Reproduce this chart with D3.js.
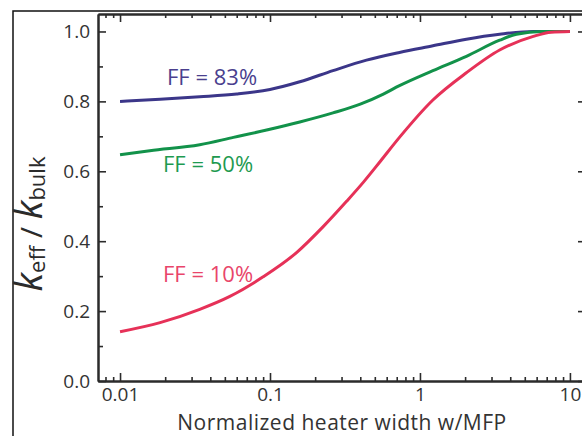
<!DOCTYPE html>
<html>
<head>
<meta charset="utf-8">
<script src="https://cdn.jsdelivr.net/npm/d3@7"></script>
<style>
  body { margin: 0; background: #fff; }
  svg { display: block; }
</style>
</head>
<body>
<div id="vis"></div>
<script>
const FRAME_WIDTH = 582;
const FRAME_HEIGHT = 436;
const PLOT = {left: 98, right: 586, top: 14, bottom: 381};

// data
const widths83 = [0.01, 0.0185, 0.034, 0.06, 0.1, 0.158, 0.263, 0.44, 0.73, 1.22, 2.04, 3.4, 5.7, 10];
const keff83   = [0.800, 0.806, 0.813, 0.821, 0.834, 0.856, 0.888, 0.918, 0.940, 0.959, 0.978, 0.992, 1.0, 1.0];

const widths50 = [0.01, 0.0158, 0.034, 0.057, 0.095, 0.158, 0.263, 0.4, 0.57, 0.73, 1.22, 2.04, 3.4, 4.4, 6.5, 10];
const keff50   = [0.647, 0.659, 0.676, 0.697, 0.718, 0.741, 0.767, 0.792, 0.821, 0.845, 0.888, 0.929, 0.975, 0.992, 1.0, 1.0];

const widths10 = [0.01, 0.0185, 0.034, 0.054, 0.09, 0.151, 0.228, 0.324, 0.42, 0.543, 0.73, 1.22, 2.04, 3.4, 5.7, 7.5, 10];
const keff10   = [0.141, 0.167, 0.205, 0.242, 0.298, 0.368, 0.443, 0.514, 0.569, 0.628, 0.697, 0.804, 0.882, 0.947, 0.986, 0.998, 1.0];

const xMajor = [0.01, 0.1, 1, 10];
const xMinor = [0.008, 0.009, 0.02, 0.03, 0.04, 0.05, 0.06, 0.07, 0.08, 0.09,
                0.2, 0.3, 0.4, 0.5, 0.6, 0.7, 0.8, 0.9,
                2, 3, 4, 5, 6, 7, 8, 9];
const yMajor = [0.0, 0.2, 0.4, 0.6, 0.8, 1.0];
const yMinor = [0.1, 0.3, 0.5, 0.7, 0.9];

const series = [
  {x: widths83, y: keff83, color: "#3b3689", label: "FF = 83%", labelColor: "#4a3f8e", lx: 167, ly: 85},
  {x: widths50, y: keff50, color: "#12924a", label: "FF = 50%", labelColor: "#1e9a50", lx: 163, ly: 172},
  {x: widths10, y: keff10, color: "#e63158", label: "FF = 10%", labelColor: "#e9456a", lx: 163, ly: 282}
];

const FONT = "'Open Sans', 'Noto Sans', sans-serif";

const svg = d3.select("#vis")
  .append("svg")
    .attr("width", FRAME_WIDTH)
    .attr("height", FRAME_HEIGHT);

const X_SCALE = d3.scaleLog()
  .domain([0.00713, 12.8])
  .range([PLOT.left, PLOT.right]);

const Y_SCALE = d3.scaleLinear()
  .domain([0, 1.05])
  .range([PLOT.bottom, PLOT.top]);

// outer frame of the figure
svg.append("path")
  .attr("d", "M13," + FRAME_HEIGHT + " V11 H" + FRAME_WIDTH)
  .attr("fill", "none")
  .attr("stroke", "#111")
  .attr("stroke-width", 1.5);

// curves
const line = d3.line()
  .x(d => X_SCALE(d[0]))
  .y(d => Y_SCALE(d[1]))
  .curve(d3.curveMonotoneX);

series.forEach(s => {
  svg.append("path")
    .datum(s.x.map((v, i) => [v, s.y[i]]))
    .attr("d", line)
    .attr("fill", "none")
    .attr("stroke", s.color)
    .attr("stroke-width", 3);

  svg.append("text")
    .attr("x", s.lx)
    .attr("y", s.ly)
    .attr("fill", s.labelColor)
    .style("font-family", FONT)
    .style("font-size", "22px")
    .text(s.label);
});

// axes
function styleAxis(g) {
  g.selectAll("path.domain").attr("stroke", "#2b2b2b").attr("stroke-width", 2);
  g.selectAll("line").attr("stroke", "#2b2b2b").attr("stroke-width", 1.6);
  g.selectAll("text").attr("fill", "#333").style("font-family", FONT).style("font-size", "19px");
}

svg.append("g")
  .attr("transform", "translate(0," + PLOT.bottom + ")")
  .call(d3.axisBottom(X_SCALE).tickValues(xMinor).tickSize(-4).tickSizeOuter(0).tickFormat(""))
  .call(styleAxis);

svg.append("g")
  .attr("transform", "translate(0," + PLOT.bottom + ")")
  .call(d3.axisBottom(X_SCALE).tickValues(xMajor).tickSize(-8).tickSizeOuter(0)
          .tickPadding(7).tickFormat(d => String(d)))
  .call(styleAxis);

svg.append("g")
  .attr("transform", "translate(0," + PLOT.top + ")")
  .call(d3.axisTop(X_SCALE).tickValues(xMinor).tickSize(-4).tickSizeOuter(0).tickFormat(""))
  .call(styleAxis);

svg.append("g")
  .attr("transform", "translate(0," + PLOT.top + ")")
  .call(d3.axisTop(X_SCALE).tickValues(xMajor).tickSize(-8).tickSizeOuter(0).tickFormat(""))
  .call(styleAxis);

svg.append("g")
  .attr("transform", "translate(" + PLOT.left + ",0)")
  .call(d3.axisLeft(Y_SCALE).tickValues(yMinor).tickSize(-5).tickSizeOuter(0).tickFormat(""))
  .call(styleAxis);

svg.append("g")
  .attr("transform", "translate(" + PLOT.left + ",0)")
  .call(d3.axisLeft(Y_SCALE).tickValues(yMajor).tickSize(-8).tickSizeOuter(0)
          .tickPadding(8).tickFormat(d3.format(".1f")))
  .call(styleAxis);

svg.append("g")
  .attr("transform", "translate(" + PLOT.right + ",0)")
  .call(d3.axisRight(Y_SCALE).tickValues(yMajor).tickSize(-8).tickSizeOuter(0).tickFormat(""))
  .call(styleAxis);

// x title
svg.append("text")
  .attr("x", (PLOT.left + PLOT.right) / 2)
  .attr("y", 430)
  .attr("text-anchor", "middle")
  .attr("fill", "#333")
  .style("font-family", FONT)
  .style("font-size", "21px")
  .style("letter-spacing", "0.5px")
  .text("Normalized heater width w/MFP");

// y title: k_eff / k_bulk
const yTitle = svg.append("text")
  .attr("transform", "translate(42,224) rotate(-90)")
  .attr("text-anchor", "middle")
  .attr("fill", "#2b2b2b")
  .style("font-family", FONT);

yTitle.append("tspan").style("font-size", "38px").style("font-style", "italic").text("k");
yTitle.append("tspan").style("font-size", "22px").attr("dy", 3).text("eff");
yTitle.append("tspan").style("font-size", "30px").attr("dy", -3).text(" / ");
yTitle.append("tspan").style("font-size", "38px").style("font-style", "italic").text("k");
yTitle.append("tspan").style("font-size", "22px").attr("dy", 3).text("bulk");
</script>
</body>
</html>
